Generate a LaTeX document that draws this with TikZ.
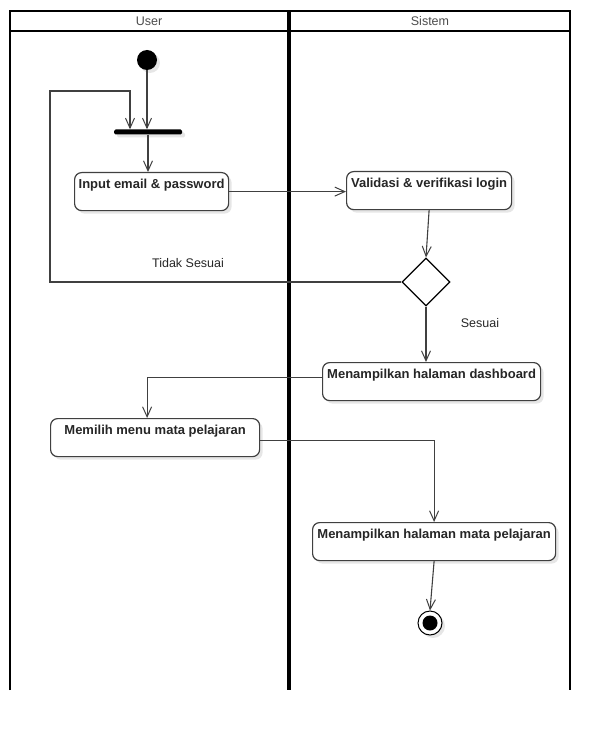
\documentclass[tikz,border=0pt]{standalone}
\usepackage{fontspec}
\setmainfont{Liberation Sans}
\usetikzlibrary{arrows.meta,shapes.geometric,shadows}

\begin{document}
\begin{tikzpicture}[x=1pt,y=-1pt,
  lane/.style={line width=2pt, draw=black},
  lanehead/.style={font=\fontsize{12.5}{14}\selectfont, text=black!70},
  soft/.style={drop shadow={shadow xshift=3pt, shadow yshift=-3pt, fill=black!12, opacity=0.8}},
  act/.style={draw=black!75, line width=1.2pt, rounded corners=7pt, fill=white,
              anchor=north west, inner sep=0pt, minimum height=38pt, soft},
  acttext/.style={anchor=north, yshift=-6pt, inner sep=1pt,
                  font=\bfseries\fontsize{13}{15}\selectfont, text=black!85},
  guard/.style={font=\fontsize{12.5}{14}\selectfont, text=black!85},
  flow/.style={draw=black!75, line width=1.1pt},
  arr/.style={flow, -{Straight Barb[length=10pt,width=9pt,line width=1pt]}},
]
\useasboundingbox (0,0) rectangle (610,730);

% swimlanes
\draw[lane] (10,690) -- (10,11) -- (570,11) -- (570,690);
\draw[lane] (10,31) -- (570,31);
\draw[line width=3.5pt] (289,11) -- (289,690);
\node[lanehead] (hUser) at (149,21) {User};
\node[lanehead] (hSistem) at (430,21) {Sistem};

% initial node and fork bar
\node[circle, fill=black, minimum size=20pt, inner sep=0pt, soft] (start) at (147,60) {};
\node[fill=black, minimum width=68pt, minimum height=5pt, inner sep=0pt, rounded corners=1.5pt, soft] (bar) at (148,132) {};

% actions
\node[act, minimum width=154pt, label={[acttext]north:Input email \& password}] (input) at (74,172) {};
\node[act, minimum width=165pt, label={[acttext]north:Validasi \& verifikasi login}] (valid) at (346,171) {};
\node[draw=black, line width=1.2pt, diamond, fill=white, minimum width=48pt, minimum height=48pt, inner sep=0pt] (dia) at (426,282) {};
\node[act, minimum width=218pt, label={[acttext]north:Menampilkan halaman dashboard}] (dash) at (322,362) {};
\node[act, minimum width=209pt, label={[acttext]north:Memilih menu mata pelajaran}] (menu) at (50,418) {};
\node[act, minimum width=243pt, label={[acttext]north:Menampilkan halaman mata pelajaran}] (mapel) at (312,522) {};

% final node
\node[circle, draw=black, line width=1pt, fill=white, minimum size=24pt, inner sep=0pt, soft] (end) at (430,623) {};
\node[circle, fill=black, minimum size=15pt, inner sep=0pt] (endDot) at (end.center) {};

% guards
\node[guard] (gNo) at (188,263) {Tidak Sesuai};
\node[guard] (gYes) at (480,323) {Sesuai};

% loop back corners
\coordinate (loopA) at (50,91);
\coordinate (loopB) at (130,91);

% control flows
\draw[arr] (start.south) -- (start.south |- bar.north);
\draw[arr] (dia.west) -| (loopA) -- (loopB) -- (loopB |- bar.north);
\draw[arr] (bar.south) -- (bar.south |- input.north);
\draw[arr] (input.east) -- (input.east -| valid.west);
\draw[arr] (valid.south) -- (dia.north);
\draw[arr] (dia.south) -- (dia.south |- dash.north);
\draw[arr] ([yshift=4pt]dash.west) -| ([xshift=-8pt]menu.north);
\draw[arr] ([yshift=-3pt]menu.east) -| (mapel.north);
\draw[arr] (mapel.south) -- (end.north);
\end{tikzpicture}
\end{document}
